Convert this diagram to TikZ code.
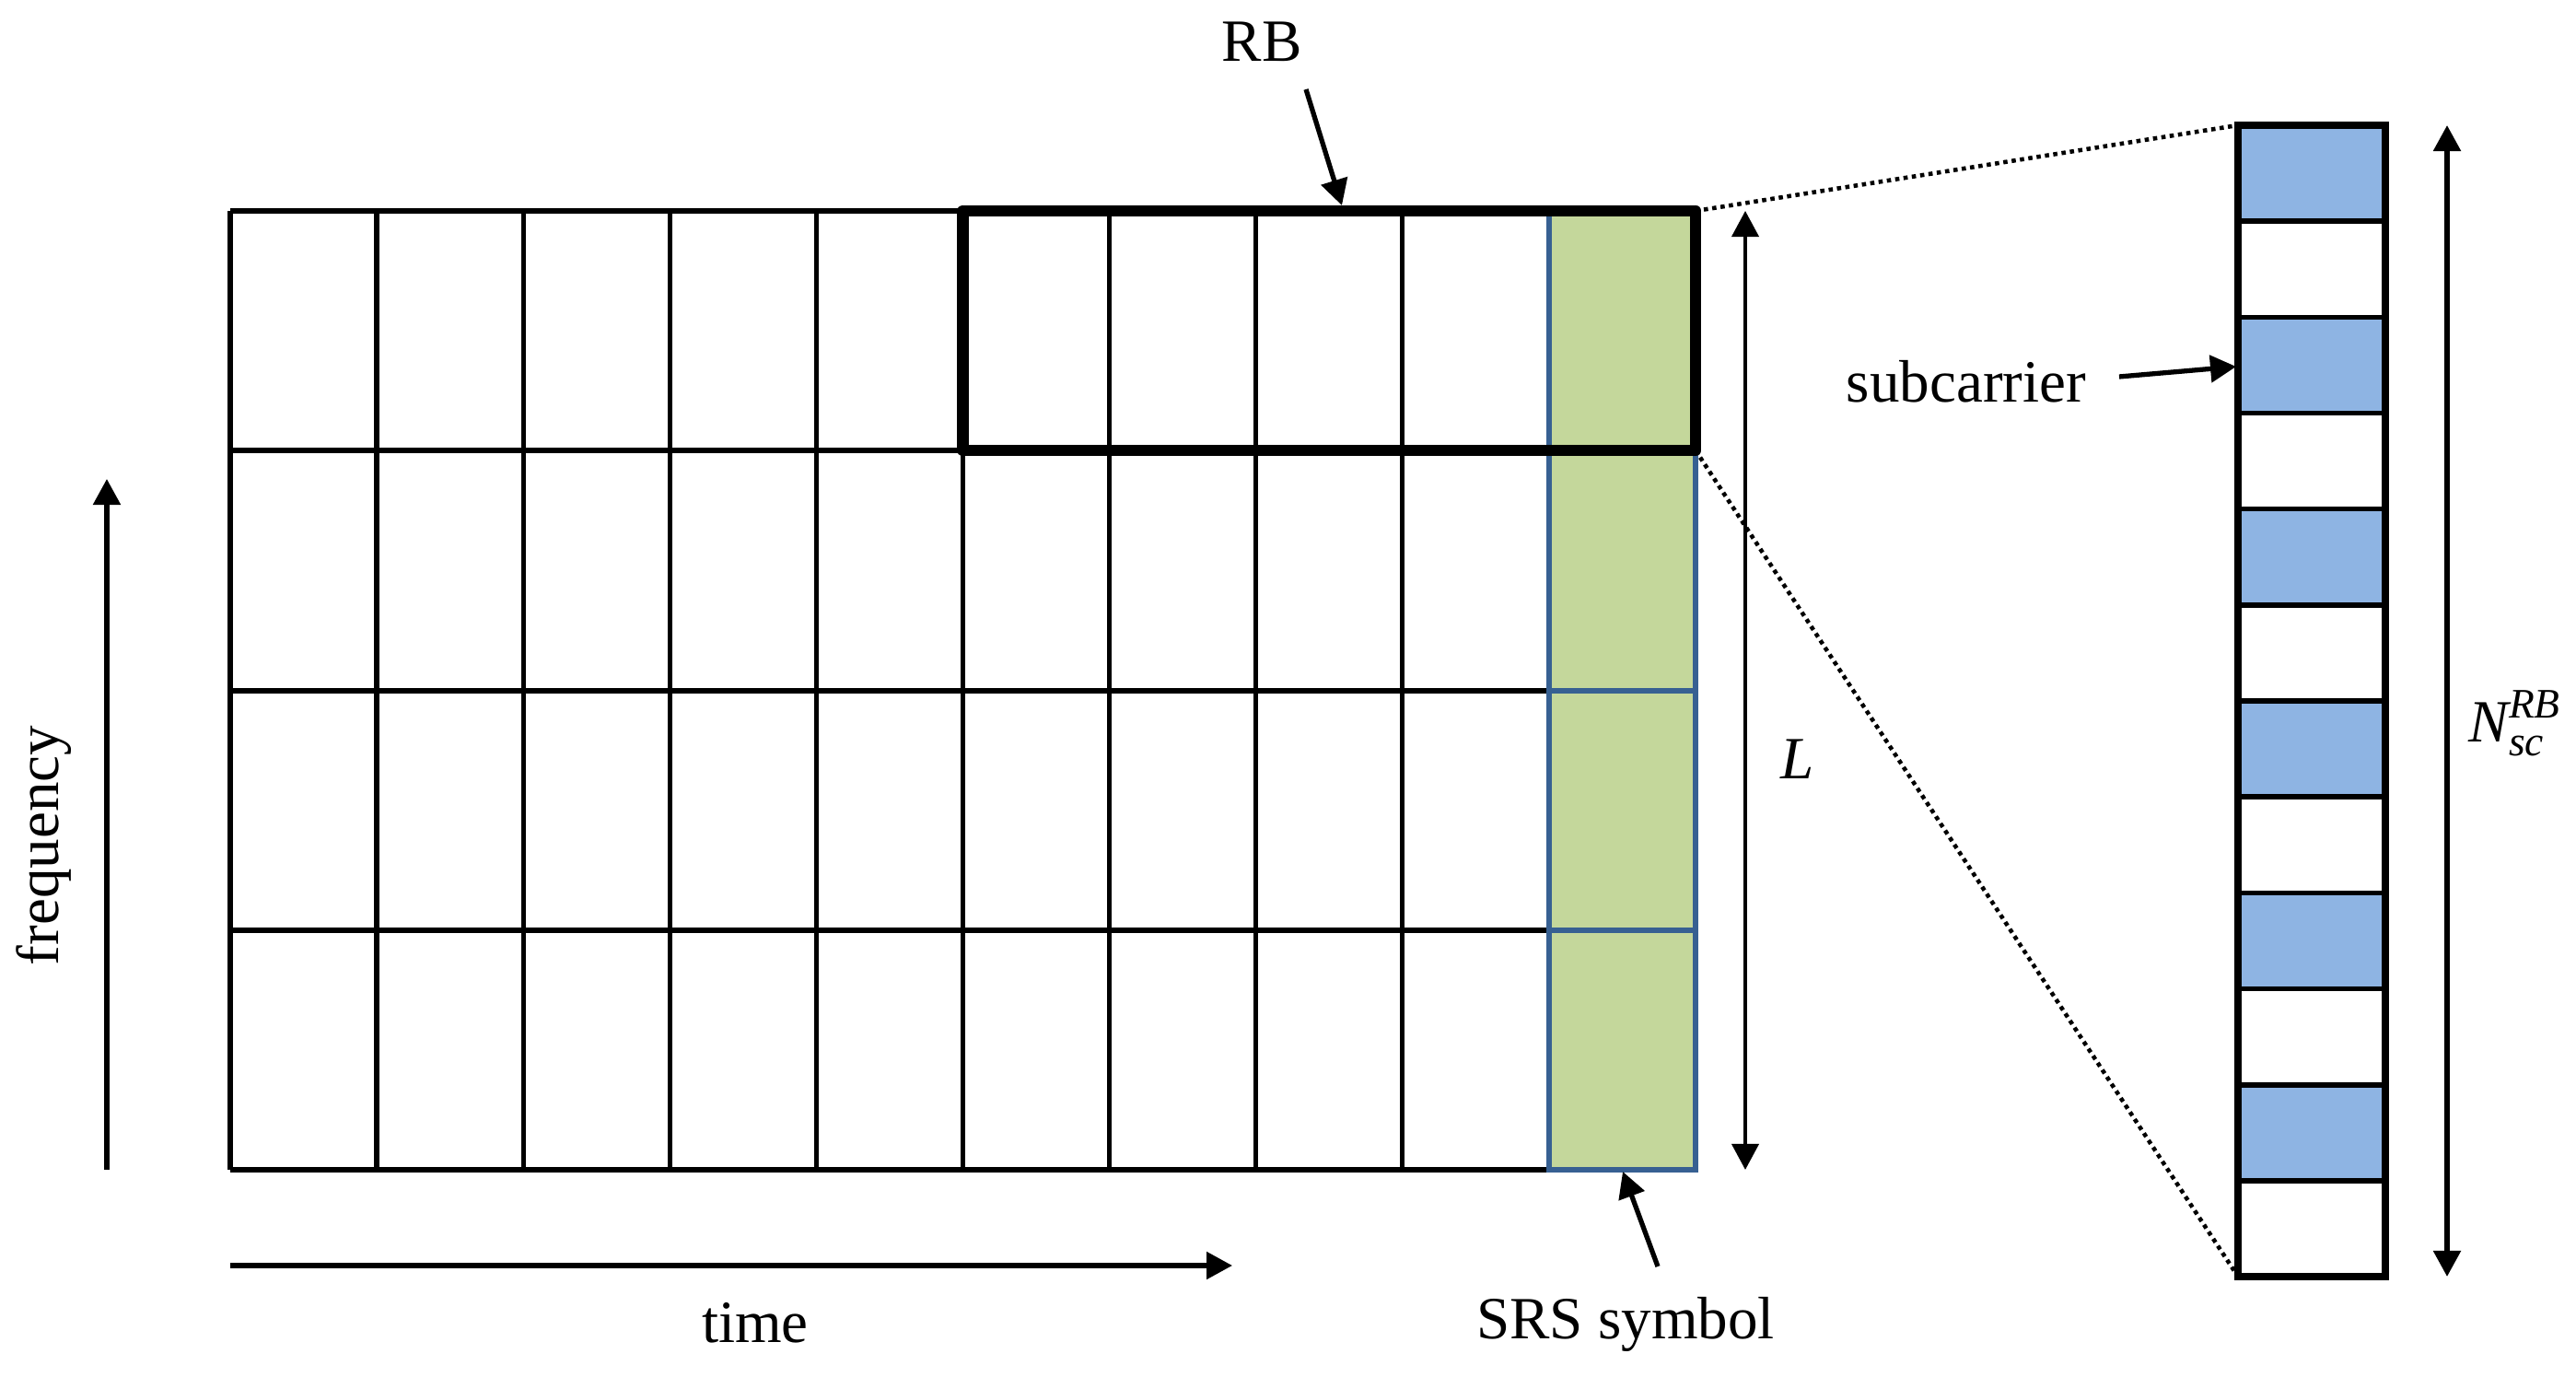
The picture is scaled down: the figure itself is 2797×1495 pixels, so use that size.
\documentclass[tikz,border=0pt]{standalone}
\usepackage{amsmath}
\usepackage{fontspec}
\setmainfont{Liberation Serif}
\usetikzlibrary{arrows.meta}
\definecolor{srsgreen}{HTML}{C4D79B}
\definecolor{scblue}{HTML}{8EB4E3}
\definecolor{srsedge}{HTML}{376092}
\tikzset{
  tip/.style={-{Triangle[length=0.28cm,width=0.29cm]}},
  gridline/.style={line width=1.5pt},
  srsline/.style={srsedge, line width=1.6pt},
  rbline/.style={line width=3.6pt, line join=round},
  axisarrow/.style={tip, line width=1.5pt},
  labelarrow/.style={tip, line width=1.5pt},
  dimarrow/.style={{Triangle[length=0.28cm,width=0.29cm]}-{Triangle[length=0.28cm,width=0.29cm]}},
  zoomline/.style={line width=1.3pt, dash pattern=on 1.3pt off 1.3pt},
  lbl/.style={font=\fontsize{18.5}{22}\selectfont, inner sep=0pt}
}

\begin{document}
\begin{tikzpicture}[x=0.01cm, y=-0.01cm]
  \useasboundingbox (0,0) rectangle (2797,1495);

  % resource grid
  \fill[srsgreen] (1682,229) rectangle (1841,1270);
  \foreach \r in {229,489,750,1010,1270}
    \draw[gridline] (250,\r) -- (1682,\r);
  \foreach \c in {0,...,8}
    \draw[gridline] ({250+159.1*\c},229) -- ({250+159.1*\c},1270);
  \draw[srsline] (1682,229) rectangle (1841,1270);
  \foreach \r in {489,750,1010}
    \draw[srsline] (1682,\r) -- (1841,\r);
  \draw[rbline] (1045.5,229) rectangle (1841,489);
  \coordinate (rbne) at (1841,229);
  \coordinate (rbse) at (1841,489);

  % subcarriers of one RB
  \foreach \k in {0,2,...,10}
    \fill[scblue] (2430,{136+104.17*\k}) rectangle (2590,{136+104.17*(\k+1)});
  \foreach \k in {1,...,11}
    \draw[line width=1.6pt] (2430,{136+104.17*\k}) -- (2590,{136+104.17*\k});
  \draw[line width=2.2pt] (2430,136) rectangle (2590,1386);
  \coordinate (scnw) at (2430,136);
  \coordinate (scsw) at (2430,1386);
  \draw[zoomline] (rbne) -- (scnw);
  \draw[zoomline] (rbse) -- (scsw);

  % L
  \coordinate (ltop) at (1895,229);
  \coordinate (lbot) at (1895,1270);
  \draw[dimarrow, line width=1.1pt] (ltop) -- (lbot);
  \node[lbl] (l) at (1952,824) {\textit{L}};

  % N_sc^RB
  \coordinate (ntop) at (2657,136);
  \coordinate (nbot) at (2657,1386);
  \draw[dimarrow, line width=1.5pt] (ntop) -- (nbot);
  \node[lbl] (nsc) at (2731,785) {$\textit{N}^{\textit{RB}}_{\textit{sc}}$};

  % axes
  \coordinate (fbot) at (116,1270);
  \coordinate (ftop) at (116,520);
  \draw[axisarrow] (fbot) -- (ftop);
  \node[lbl, rotate=90] (freq) at (48,918) {frequency};
  \coordinate (tleft) at (250,1374);
  \coordinate (tright) at (1338,1374);
  \draw[axisarrow] (tleft) -- (tright);
  \node[lbl] (time) at (820,1436) {time};

  % labels
  \node[lbl] (rb) at (1370,45) {RB};
  \coordinate (rbfrom) at (1418,97);
  \coordinate (rbto) at (1457,223);
  \draw[labelarrow] (rbfrom) -- (rbto);
  \node[lbl] (sub) at (2135,414) {subcarrier};
  \coordinate (subfrom) at (2301,409);
  \coordinate (subto) at (2428,398);
  \draw[labelarrow] (subfrom) -- (subto);
  \node[lbl] (srs) at (1765,1438) {SRS symbol};
  \coordinate (srsfrom) at (1800,1375);
  \coordinate (srsto) at (1762,1272);
  \draw[labelarrow] (srsfrom) -- (srsto);
\end{tikzpicture}
\end{document}
